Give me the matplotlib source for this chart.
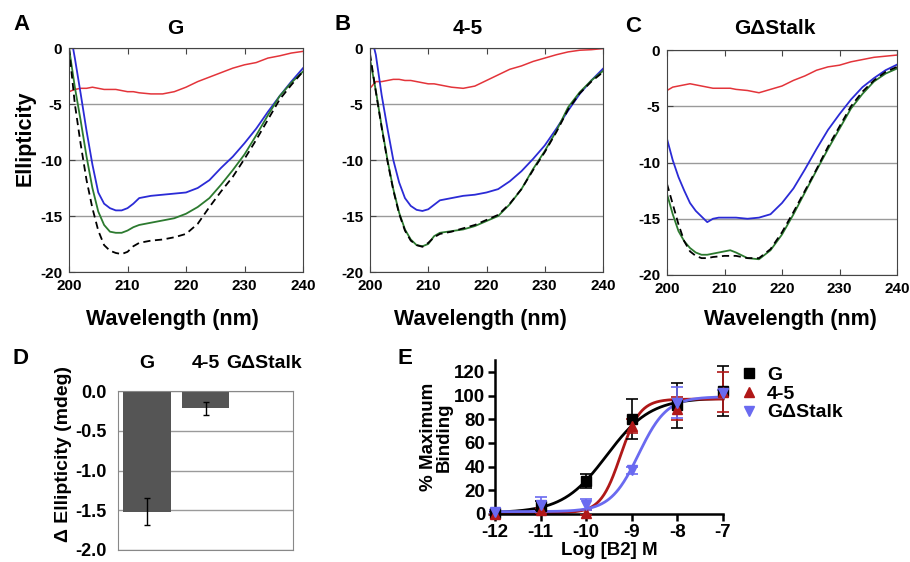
import numpy as np
import matplotlib
matplotlib.use('Agg')
import matplotlib.pyplot as plt
from matplotlib.lines import Line2D

plt.rcParams['font.family'] = ['Liberation Sans', 'DejaVu Sans']
plt.rcParams['font.weight'] = 'bold'
plt.rcParams['axes.labelweight'] = 'bold'
plt.rcParams['axes.unicode_minus'] = False

# --- CD spectra (A, B, C) ---
wl = [200, 201, 202, 203, 204, 205, 206, 207, 208, 209, 210, 211, 212, 214,
      216, 218, 220, 222, 224, 226, 228, 230, 232, 234, 236, 238, 240]

a_red = [-3.9, -3.7, -3.6, -3.6, -3.5, -3.6, -3.7, -3.7, -3.7, -3.8, -3.9, -3.9, -4.0, -4.1,
         -4.1, -3.9, -3.5, -3.0, -2.6, -2.2, -1.8, -1.5, -1.3, -0.9, -0.7, -0.45, -0.3]
a_blue = [2.0, -0.9, -4.1, -7.4, -10.4, -12.9, -13.9, -14.3, -14.5, -14.5, -14.3, -13.9, -13.4, -13.2,
          -13.1, -13.0, -12.9, -12.5, -11.8, -10.7, -9.7, -8.5, -7.2, -5.7, -4.3, -3.0, -1.8]
a_green = [0.0, -3.5, -6.5, -9.7, -12.5, -14.6, -15.8, -16.4, -16.5, -16.5, -16.3, -16.0, -15.8, -15.6,
           -15.4, -15.2, -14.8, -14.2, -13.4, -12.2, -10.9, -9.5, -7.8, -6.0, -4.3, -3.1, -2.1]
a_black = [0.0, -5.0, -8.6, -11.8, -14.3, -16.3, -17.6, -18.1, -18.3, -18.4, -18.2, -17.7, -17.4, -17.2,
           -17.1, -16.9, -16.6, -15.7, -14.2, -12.8, -11.5, -9.9, -8.2, -6.4, -4.6, -3.3, -2.1]

b_red = [-3.6, -3.0, -3.0, -2.9, -2.8, -2.8, -2.9, -2.9, -3.0, -3.1, -3.2, -3.2, -3.3, -3.5,
         -3.6, -3.4, -2.9, -2.4, -1.9, -1.6, -1.2, -0.9, -0.6, -0.35, -0.2, -0.15, -0.05]
b_blue = [1.5, -0.6, -4.2, -7.2, -10.0, -12.0, -13.4, -14.1, -14.45, -14.55, -14.4, -14.0, -13.6, -13.4,
          -13.2, -13.1, -12.9, -12.6, -11.9, -11.0, -9.9, -8.7, -7.2, -5.6, -4.1, -2.9, -1.85]
b_green = [-1.0, -3.8, -7.0, -10.0, -12.6, -14.7, -16.2, -17.1, -17.6, -17.7, -17.5, -16.8, -16.5, -16.35,
           -16.2, -15.9, -15.45, -15.0, -13.95, -12.6, -10.8, -9.2, -7.4, -5.3, -3.95, -2.9, -2.05]
b_black = [-0.5, -3.9, -7.1, -10.1, -12.7, -14.8, -16.3, -17.2, -17.6, -17.75, -17.4, -16.9, -16.6, -16.4,
           -16.1, -15.8, -15.35, -14.9, -13.9, -12.6, -10.9, -9.3, -7.5, -5.5, -4.05, -3.0, -2.15]

c_red = [-3.6, -3.3, -3.2, -3.1, -3.0, -3.1, -3.2, -3.3, -3.4, -3.4, -3.4, -3.4, -3.5, -3.6,
         -3.8, -3.5, -3.2, -2.7, -2.3, -1.8, -1.5, -1.35, -1.05, -0.85, -0.65, -0.55, -0.45]
c_blue = [-7.9, -9.8, -11.3, -12.5, -13.6, -14.3, -14.8, -15.3, -15.0, -14.9, -14.9, -14.9, -14.9, -15.0,
          -14.9, -14.6, -13.6, -12.3, -10.6, -8.8, -7.1, -5.7, -4.4, -3.3, -2.5, -1.8, -1.3]
c_green = [-12.8, -14.6, -16.1, -17.0, -17.6, -18.0, -18.2, -18.2, -18.1, -18.0, -17.9, -17.8, -18.0, -18.5,
           -18.6, -17.8, -16.4, -14.6, -12.65, -10.7, -8.8, -7.0, -5.2, -3.9, -2.8, -2.1, -1.65]
c_black = [-11.9, -13.7, -15.5, -17.0, -17.9, -18.3, -18.5, -18.5, -18.4, -18.35, -18.3, -18.3, -18.3, -18.5,
           -18.5, -17.7, -16.2, -14.4, -12.5, -10.6, -8.6, -6.8, -5.0, -3.7, -2.7, -1.95, -1.5]

# --- panel D ---
d_labels = ['G', '4-5', 'G\u0394Stalk']
d_values = [-1.52, -0.22, -0.005]
d_errors = [0.17, 0.08, 0.0]

# --- panel E ---
log_b2 = [-12, -11, -10, -9, -8, -7]
g_bind = [1, 7, 28, 80, 92, 104]
g_err = [1, 4, 6, 17, 19, 21]
m45_bind = [0, 3, 1, 74, 89, 103]
m45_err = [1, 2, 2, 6, 10, 17]
stalk_bind = [2, 8, 8, 37, 94, 102]
stalk_err = [1, 6, 5, 3, 13, 3]
# Hill fit parameters: bottom, top, logEC50, hill slope
g_fit = (1, 98, -9.55, 0.9)
m45_fit = (1, 97, -9.25, 2.0)
stalk_fit = (2, 99, -8.85, 1.4)

RED = '#e3343a'
BLUE = '#2b2bd6'
GREEN = '#2c7a2f'
SPINE = '#444444'

fig = plt.figure(figsize=(9.1, 5.62), dpi=100)
fig.set_facecolor('white')


def bold_ticks(ax):
    for lab in ax.get_xticklabels() + ax.get_yticklabels():
        lab.set_fontweight('bold')


def cd_panel(rect, red, blue, green, black):
    ax = fig.add_axes(rect)
    ax.plot(wl, red, color=RED, lw=1.1)
    ax.plot(wl, blue, color=BLUE, lw=1.3)
    ax.plot(wl, green, color=GREEN, lw=1.3)
    ax.plot(wl, black, color='black', lw=1.3, ls=(0, (4, 2.5)))
    ax.set_xlim(200, 240)
    ax.set_ylim(-20, 0)
    ax.set_xticks([200, 210, 220, 230, 240])
    ax.set_yticks([0, -5, -10, -15, -20])
    ax.yaxis.grid(True, color='#9a9a9a', lw=1)
    ax.set_axisbelow(True)
    ax.tick_params(direction='in', top=True, labelsize=11, pad=5, length=4, color=SPINE)
    for s in ax.spines.values():
        s.set_color(SPINE)
    bold_ticks(ax)
    return ax


axA = cd_panel([69/910, 1-272/562, 234/910, 224/562], a_red, a_blue, a_green, a_black)
axB = cd_panel([370/910, 1-272/562, 233/910, 224/562], b_red, b_blue, b_green, b_black)
axC = cd_panel([667/910, 1-275/562, 230/910, 225/562], c_red, c_blue, c_green, c_black)

for x, y, t in [(22, 25, 'A'), (343, 25, 'B'), (633, 27, 'C'), (20, 358, 'D'), (405, 358, 'E')]:
    fig.text(x/910, 1-y/562, t, fontsize=16, fontweight='bold', ha='center', va='center')
for x, t in [(175, 'G'), (468, '4-5'), (775, 'G\u0394Stalk')]:
    fig.text(x/910, 1-28/562, t, fontsize=15, fontweight='bold', ha='center', va='center')
for x in [172, 480, 790]:
    fig.text(x/910, 1-320/562, 'Wavelength (nm)', fontsize=15.5, fontweight='bold',
             ha='center', va='center')
fig.text(25/910, 1-138/562, 'Ellipticity', fontsize=15.5, fontweight='bold', rotation=90,
         ha='center', va='center')

# --- panel D: bar chart ---
axD = fig.add_axes([118/910, 1-550/562, 175/910, 159/562])
xd = np.arange(len(d_labels))
axD.bar(xd, d_values, width=0.82, color='#555555', zorder=2)
axD.errorbar(xd[:2], d_values[:2], yerr=d_errors[:2], fmt='none', ecolor='black',
             elinewidth=1, capsize=2, zorder=3)
axD.set_xlim(-0.5, 2.5)
axD.set_ylim(-2.0, 0)
axD.set_yticks([0, -0.5, -1.0, -1.5, -2.0])
axD.set_yticklabels(['0.0', '-0.5', '-1.0', '-1.5', '-2.0'])
axD.yaxis.grid(True, color='#9a9a9a', lw=1)
axD.set_axisbelow(True)
axD.xaxis.tick_top()
axD.set_xticks(xd)
axD.set_xticklabels(d_labels, fontsize=14)
axD.tick_params(axis='x', length=0, pad=14)
axD.tick_params(axis='y', labelsize=13, length=0, pad=8)
for s in axD.spines.values():
    s.set_color('#888888')
bold_ticks(axD)
fig.text(63/910, 1-366/562, '\u0394 Ellipticity (mdeg)', fontsize=14, fontweight='bold',
         rotation=90, ha='center', va='top')

# --- panel E: binding curves ---
axE = fig.add_axes([495/910, 1-514/562, 228/910, 154/562])
xs = np.linspace(-12, -7, 300)
series = [
    (g_bind, g_err, g_fit, 'black', 's', 'G'),
    (m45_bind, m45_err, m45_fit, '#b01818', '^', '4-5'),
    (stalk_bind, stalk_err, stalk_fit, '#6a6af0', 'v', 'G\u0394Stalk'),
]
handles = []
for vals, errs, fit, col, mk, lab in series:
    bot, top, ec50, hill = fit
    axE.plot(xs, bot + (top - bot) / (1 + 10 ** ((ec50 - xs) * hill)), color=col, lw=2, clip_on=False)
    axE.errorbar(log_b2, vals, yerr=errs, fmt=mk, color=col, ms=7, elinewidth=1.2,
                 capsize=4, capthick=1.2, clip_on=False, zorder=3)
    handles.append(Line2D([], [], ls='none', marker=mk, color=col, ms=7, label=lab))
axE.set_xlim(-12, -7)
axE.set_ylim(0, 130)
axE.set_xticks(log_b2)
axE.set_yticks([0, 20, 40, 60, 80, 100, 120])
axE.spines['top'].set_visible(False)
axE.spines['right'].set_visible(False)
for s in ['left', 'bottom']:
    axE.spines[s].set_linewidth(1.8)
axE.tick_params(direction='out', width=1.8, length=5, labelsize=13.5, pad=2)
bold_ticks(axE)
axE.set_xlabel('Log [B2] M', fontsize=13.5, fontweight='bold', labelpad=1)
axE.set_ylabel('% Maximum\nBinding', fontsize=13.5, fontweight='bold', labelpad=1,
               linespacing=0.9)
axE.legend(handles=handles, loc='upper left', bbox_to_anchor=(1.03, 1.02), frameon=False,
           prop={'size': 14, 'weight': 'bold'}, handlelength=1.0, handletextpad=0.4,
           labelspacing=0.05, borderpad=0)

fig.savefig('out.png', dpi=100)
